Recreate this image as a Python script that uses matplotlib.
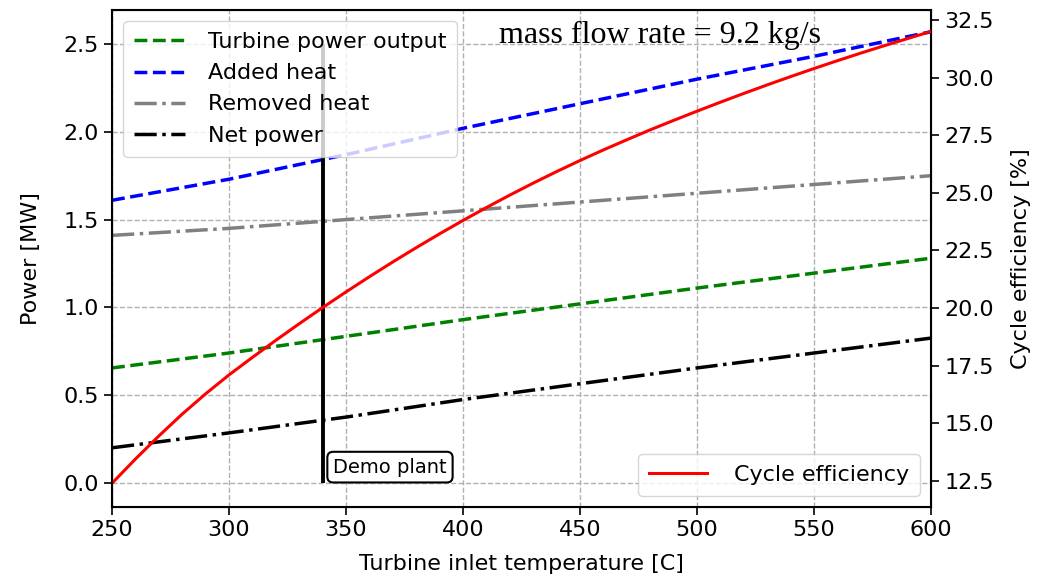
import matplotlib
matplotlib.use('Agg')
import matplotlib.pyplot as plt

# turbine inlet temperature [C]
temp = [250, 300, 350, 400, 450, 500, 550, 600]
turbine_power = [0.655, 0.74, 0.835, 0.93, 1.02, 1.11, 1.195, 1.28]
added_heat = [1.61, 1.73, 1.87, 2.02, 2.16, 2.30, 2.43, 2.57]
removed_heat = [1.41, 1.45, 1.50, 1.55, 1.60, 1.65, 1.70, 1.75]
net_power = [0.20, 0.285, 0.375, 0.475, 0.565, 0.655, 0.74, 0.825]

temp_eff = list(range(250, 601, 10))
efficiency = [12.40, 13.45, 14.45, 15.40, 16.28, 17.10, 17.86, 18.60, 19.32, 20.02,
              20.70, 21.36, 22.00, 22.62, 23.22, 23.80, 24.36, 24.90, 25.42, 25.92,
              26.40, 26.86, 27.30, 27.73, 28.14, 28.54, 28.93, 29.31, 29.68, 30.04,
              30.39, 30.73, 31.06, 31.38, 31.69, 32.00]

demo_temp = 340

plt.rcParams['font.family'] = 'DejaVu Sans'
plt.rcParams['font.size'] = 16

fig = plt.figure(figsize=(10.5, 5.8), dpi=100)
ax = fig.add_axes([0.1067, 0.1259, 0.78, 0.8569])

ax.plot(temp, turbine_power, '--', color='green', lw=2.5, label='Turbine power output')
ax.plot(temp, added_heat, '--', color='blue', lw=2.5, label='Added heat')
ax.plot(temp, removed_heat, '-.', color='gray', lw=2.5, label='Removed heat')
ax.plot(temp, net_power, '-.', color='black', lw=2.5, label='Net power')
ax.vlines(demo_temp, 0, 2.5, color='black', lw=2.8)
ax.text(demo_temp + 4.5, 0.09, 'Demo plant', fontsize=14, va='center', ha='left',
        bbox=dict(boxstyle='round,pad=0.3', fc='white', ec='black', lw=1.5))
ax.text(484, 2.55, 'mass flow rate = 9.2 kg/s', family='Liberation Serif',
        fontsize=23, ha='center', va='center')

ax.set_xlim(250, 600)
ax.set_ylim(-0.137, 2.694)
ax.set_yticks([0.0, 0.5, 1.0, 1.5, 2.0, 2.5])
ax.set_xlabel('Turbine inlet temperature [C]', labelpad=10)
ax.set_ylabel('Power [MW]', labelpad=16)
ax.grid(True, linestyle='--', color='#b0b0b0', lw=1)
ax.tick_params(direction='out', length=6, width=1.2)
for s in ax.spines.values():
    s.set_linewidth(1.5)
ax.legend(loc='upper left', fontsize=16, framealpha=0.8, handlelength=2.3,
          handletextpad=1.0, labelspacing=0.5, borderpad=0.5)

ax2 = ax.twinx()
ax2.plot(temp_eff, efficiency, '-', color='red', lw=2.2, label='Cycle efficiency')
ax2.set_ylim(11.37, 32.93)
ax2.set_yticks([12.5, 15.0, 17.5, 20.0, 22.5, 25.0, 27.5, 30.0, 32.5])
ax2.set_ylabel('Cycle efficiency [%]', labelpad=12)
ax2.tick_params(direction='out', length=6, width=1.2)
ax2.legend(loc='lower right', fontsize=16, framealpha=0.8, handlelength=2.6,
           handletextpad=1.2, borderpad=0.5)

fig.savefig('out.png', dpi=100)
